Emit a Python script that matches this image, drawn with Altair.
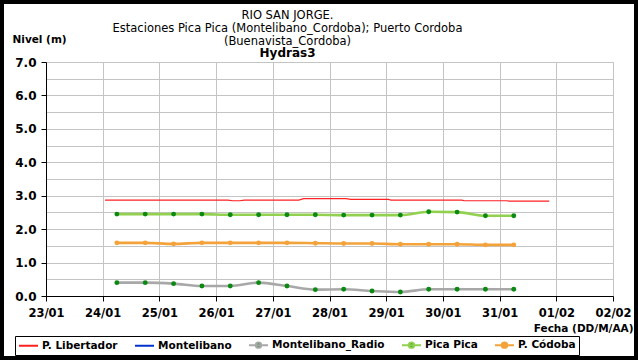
import altair as alt
import pandas as pd

# Series (legend order) and their drawing styles
series_names = ["P. Libertador", "Montelibano", "Montelibano_Radio", "Pica Pica", "P. Códoba"]
line_colors = ["#ff2020", "#0033cc", "#a8a8a8", "#92d050", "#f4a23a"]
marker_colors = ["#ff2020", "#0033cc", "#0b8a12", "#0b8a12", "#f4a23a"]

# Legend symbols: plain line, or line with a centred dot
LINE = "M-1,0H2.8"
LINE_DOT = "M-1,0H2.8M0.36,0A0.54,0.54,0,1,1,1.44,0A0.54,0.54,0,1,1,0.36,0Z"
legend_shapes = [LINE, LINE, LINE_DOT, LINE_DOT, LINE_DOT]

# P. Libertador (continuous record)
lib_times = [
    "2011-01-24T01:00", "2011-01-26T05:00", "2011-01-26T07:00", "2011-01-26T10:00",
    "2011-01-26T12:00", "2011-01-27T11:00", "2011-01-27T13:00", "2011-01-28T07:00",
    "2011-01-28T09:00", "2011-01-29T01:00", "2011-01-29T02:00", "2011-01-30T08:00",
    "2011-01-30T09:00", "2011-01-31T03:00", "2011-01-31T04:00", "2011-01-31T21:00",
]
lib_values = [2.87, 2.87, 2.85, 2.85, 2.87, 2.87, 2.91, 2.91,
              2.89, 2.89, 2.87, 2.87, 2.85, 2.85, 2.84, 2.84]

# Twice-daily readings
obs_times = [
    "2011-01-24T06:00", "2011-01-24T18:00", "2011-01-25T06:00", "2011-01-25T18:00",
    "2011-01-26T06:00", "2011-01-26T18:00", "2011-01-27T06:00", "2011-01-27T18:00",
    "2011-01-28T06:00", "2011-01-28T18:00", "2011-01-29T06:00", "2011-01-29T18:00",
    "2011-01-30T06:00", "2011-01-30T18:00", "2011-01-31T06:00",
]
radio_values = [0.40, 0.40, 0.37, 0.30, 0.30, 0.40, 0.30, 0.19,
                0.20, 0.15, 0.12, 0.20, 0.20, 0.20, 0.20]
pica_values = [2.45, 2.45, 2.45, 2.45, 2.43, 2.43, 2.43, 2.43,
               2.42, 2.42, 2.42, 2.52, 2.51, 2.40, 2.40]
cordoba_values = [1.59, 1.59, 1.56, 1.59, 1.59, 1.59, 1.59, 1.58,
                  1.57, 1.57, 1.55, 1.55, 1.55, 1.53, 1.53]

# Axis ticks
x_tick_days = [(1, 23), (1, 24), (1, 25), (1, 26), (1, 27), (1, 28),
               (1, 29), (1, 30), (1, 31), (2, 1), (2, 2)]
y_ticks = [0.0, 0.5, 1.0, 1.5, 2.0, 2.5, 3.0, 3.5, 4.0, 4.5, 5.0, 5.5, 6.0, 6.5, 7.0]

frames = [pd.DataFrame({"serie": "P. Libertador", "fecha": pd.to_datetime(lib_times), "nivel": lib_values})]
for name, vals in [("Montelibano_Radio", radio_values), ("Pica Pica", pica_values), ("P. Códoba", cordoba_values)]:
    frames.append(pd.DataFrame({"serie": name, "fecha": pd.to_datetime(obs_times), "nivel": vals}))
df = pd.concat(frames, ignore_index=True)
markers_df = df[df["serie"] != "P. Libertador"]

FONT = "DejaVu Sans"
W, H = 567, 234

x_enc = alt.X(
    "fecha:T",
    scale=alt.Scale(
        domain=[alt.DateTime(year=2011, month=1, date=23), alt.DateTime(year=2011, month=2, date=2)],
        nice=False,
    ),
    axis=alt.Axis(
        values=[alt.DateTime(year=2011, month=m, date=d) for m, d in x_tick_days],
        format="%d/%m",
        labelFont=FONT, labelFontSize=11.5, labelFontWeight="bold", labelColor="black",
        labelPadding=6, labelFlush=False, labelOverlap=False,
        domainColor="black", tickColor="black", tickSize=5,
        grid=True, gridColor="#c4c4c4",
        title="Fecha (DD/M/AA)", titleFont=FONT, titleFontSize=10.5, titleFontWeight="bold",
        titleColor="black", titleAlign="right", titleBaseline="alphabetic",
        titleX=587, titleY=35, titleAngle=0,
    ),
)
y_enc = alt.Y(
    "nivel:Q",
    scale=alt.Scale(domain=[0, 7], nice=False, zero=False),
    axis=alt.Axis(
        values=y_ticks,
        labelExpr="datum.value % 1 === 0 ? format(datum.value, '.1f') : ''",
        tickOpacity={"condition": {"test": "datum.value % 1 === 0", "value": 1}, "value": 0},
        labelFont=FONT, labelFontSize=12, labelFontWeight="bold", labelColor="black",
        labelPadding=5,
        domainColor="black", tickColor="black", tickSize=5,
        grid=True, gridColor="#c4c4c4",
        title="Nivel (m)", titleFont=FONT, titleFontSize=10.5, titleFontWeight="bold",
        titleColor="black", titleAngle=0, titleAlign="left", titleBaseline="alphabetic",
        titleX=-34, titleY=-20,
    ),
)

stroke_scale = alt.Scale(domain=series_names, range=line_colors)
fill_scale = alt.Scale(domain=series_names, range=marker_colors)
shape_scale = alt.Scale(domain=series_names, range=legend_shapes)

legend = alt.Legend(
    title=None, orient="none", legendX=-31, legendY=274, direction="horizontal",
    columns=5, symbolSize=100, symbolStrokeWidth=2, labelOffset=12, columnPadding=13,
    labelFont=FONT, labelFontSize=10.5, labelFontWeight="bold", labelColor="black",
    labelLimit=0, padding=3, strokeColor="black", fillColor="white",
)

base = alt.Chart(df)

# Legend only: no rows are drawn, the scales carry the five series
legend_layer = base.mark_point(filled=True, opacity=1, strokeWidth=2).encode(
    x=x_enc, y=y_enc,
    stroke=alt.Stroke("serie:N", scale=stroke_scale, legend=legend),
    fill=alt.Fill("serie:N", scale=fill_scale, legend=legend),
    shape=alt.Shape("serie:N", scale=shape_scale, legend=legend),
).transform_filter("false")

thin_line = base.mark_line(strokeWidth=1.2).encode(
    x=x_enc, y=y_enc,
    stroke=alt.Stroke("serie:N", scale=stroke_scale, legend=None),
).transform_filter(alt.datum.serie == "P. Libertador")

thick_lines = base.mark_line(strokeWidth=2.6, interpolate="monotone").encode(
    x=x_enc, y=y_enc,
    stroke=alt.Stroke("serie:N", scale=stroke_scale, legend=None),
).transform_filter(alt.datum.serie != "P. Libertador")

markers = alt.Chart(markers_df).mark_point(filled=True, size=24, opacity=1, strokeWidth=0).encode(
    x=x_enc, y=y_enc,
    fill=alt.Fill("serie:N", scale=fill_scale, legend=None),
)

# Black outer frame
frame = alt.Chart(pd.DataFrame({"marco": [1]})).mark_rect(
    fillOpacity=0, stroke="black", strokeWidth=4
).encode(
    x=alt.value(-44), x2=alt.value(590), y=alt.value(-60), y2=alt.value(296),
)

chart = alt.layer(legend_layer, thin_line, thick_lines, markers, frame).properties(
    width=W, height=H,
    autosize=alt.AutoSizeParams(type="none"),
    padding={"left": 46, "top": 62, "right": 25, "bottom": 64},
    title=alt.Title(
        text=["RIO SAN JORGE.", "Estaciones Pica Pica (Montelibano_Cordoba); Puerto Cordoba", "(Buenavista_Cordoba)"],
        subtitle="Hydras3",
        font=FONT, fontSize=11.5, fontWeight="normal", color="black", lineHeight=13,
        subtitleFont=FONT, subtitleFontSize=12, subtitleFontWeight="bold", subtitleColor="black",
        subtitlePadding=1, anchor="middle", dx=-42, offset=-59,
    ),
).configure_view(stroke="#a0a0a0", strokeWidth=1).configure(background="white")

chart.save("out.html", embed_options={"renderer": "svg", "actions": False})
